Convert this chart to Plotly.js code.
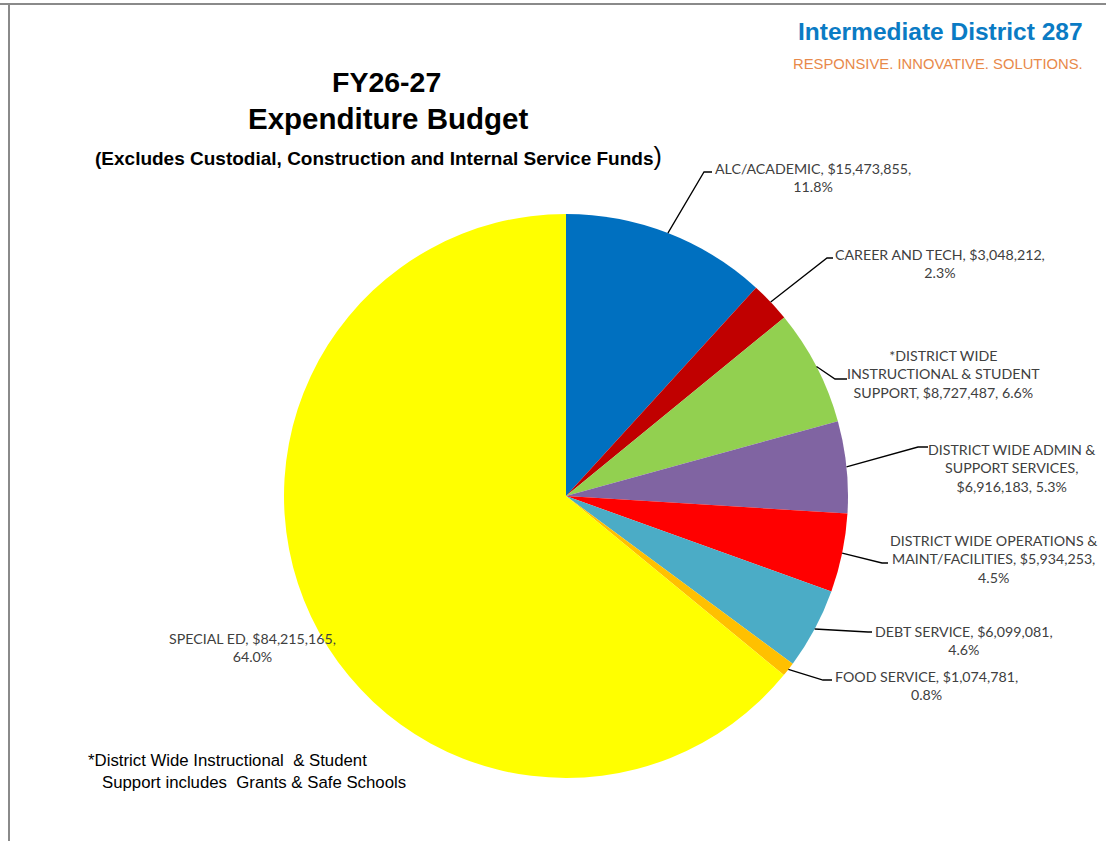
<!DOCTYPE html>
<html><head><meta charset="utf-8">
<script src="https://cdn.plot.ly/plotly-3.0.1.min.js"></script>
<style>html,body{margin:0;padding:0;background:#fff}#chart{width:1106px;height:841px}</style>
</head><body><div id="chart"></div>
<script>
// ---- data ----
const categories = ["ALC/ACADEMIC", "CAREER AND TECH", "*DISTRICT WIDE INSTRUCTIONAL & STUDENT SUPPORT",
  "DISTRICT WIDE ADMIN & SUPPORT SERVICES", "DISTRICT WIDE OPERATIONS & MAINT/FACILITIES",
  "DEBT SERVICE", "FOOD SERVICE", "SPECIAL ED"];
const values = [15473855, 3048212, 8727487, 6916183, 5934253, 6099081, 1074781, 84215165];
const colors = ["#0070C0", "#C00000", "#92D050", "#8064A2", "#FF0000", "#4BACC6", "#FFC000", "#FFFF00"];
// label wording (line breaks as in the original)
const labelNames = ["ALC/ACADEMIC", "CAREER AND TECH", "*DISTRICT WIDE<br>INSTRUCTIONAL & STUDENT<br>SUPPORT",
  "DISTRICT WIDE ADMIN &<br>SUPPORT SERVICES", "DISTRICT WIDE OPERATIONS &<br>MAINT/FACILITIES",
  "DEBT SERVICE", "FOOD SERVICE", "SPECIAL ED"];
const valueSeps = [", ", ", ", ", ", ",<br>", ", ", ", ", ", ", ", "];
const pctSeps = [",<br>", ",<br>", ", ", ", ", ",<br>", ",<br>", ",<br>", ",<br>"];

// ---- layout helpers (pixel positions of label blocks and leader elbows) ----
const W = 1106, H = 841;
const pieDomain = {x: [284 / W, 848 / W], y: [63 / H, 627 / H]};
const labelPos = [[813, 177.5], [940, 263.5], [943, 373.5], [1011, 468.5], [993, 558.5], [964, 640], [926, 685], [252, 647]];
const leaderElbow = [[704, 172], [827, 258], [835, 379], [918, 447], [882, 563], [868, 632], [823, 680], null];
const leaderEnd = [[712, 172], [833, 258], [847, 379], [928, 447], [888, 563], [872, 632], [832, 680], null];

const px = x => x / W, py = y => 1 - y / H;
const total = values.reduce((a, b) => a + b, 0);
const cx = (pieDomain.x[0] + pieDomain.x[1]) / 2 * W;
const cy = (1 - (pieDomain.y[0] + pieDomain.y[1]) / 2) * H;
const R = Math.min((pieDomain.x[1] - pieDomain.x[0]) * W, (pieDomain.y[1] - pieDomain.y[0]) * H) / 2;

const fmtMoney = v => "$" + v.toLocaleString("en-US");
const annotations = [];
const shapes = [];
let cum = 0;
values.forEach((v, i) => {
  const mid = (cum + v / 2) / total * 2 * Math.PI;
  cum += v;
  const pct = (v / total * 100).toFixed(1) + "%";
  const txt = labelNames[i] + valueSeps[i] + fmtMoney(v) + pctSeps[i] + pct;
  annotations.push({
    xref: "paper", yref: "paper", x: px(labelPos[i][0]), y: py(labelPos[i][1]),
    xanchor: "center", yanchor: "middle", align: "center", showarrow: false,
    text: txt, font: {family: "Lato, 'Open Sans', sans-serif", size: 14.2, color: "#404040"}
  });
  if (leaderElbow[i]) {
    const ex = cx + R * Math.sin(mid), ey = cy - R * Math.cos(mid);
    shapes.push({
      type: "path", xref: "paper", yref: "paper",
      path: `M ${px(ex)},${py(ey)} L ${px(leaderElbow[i][0])},${py(leaderElbow[i][1])} L ${px(leaderEnd[i][0])},${py(leaderEnd[i][1])}`,
      line: {color: "#000000", width: 1.3}
    });
  }
});

// frame lines (top & left)
shapes.push({type: "line", xref: "paper", yref: "paper", x0: 0, x1: 1, y0: py(4), y1: py(4), line: {color: "#8a8a8a", width: 2}});
shapes.push({type: "line", xref: "paper", yref: "paper", x0: px(9), x1: px(9), y0: py(4), y1: 0, line: {color: "#8a8a8a", width: 2}});

const titleFont = "Arial, 'Liberation Sans', sans-serif";
annotations.push(
  {xref: "paper", yref: "paper", x: px(386), y: py(82), xanchor: "center", yanchor: "middle", showarrow: false,
   text: "<b>FY26-27</b>", font: {family: titleFont, size: 28.5, color: "#000"}},
  {xref: "paper", yref: "paper", x: px(388), y: py(119), xanchor: "center", yanchor: "middle", showarrow: false,
   text: "<b>Expenditure Budget</b>", font: {family: titleFont, size: 29.5, color: "#000"}},
  {xref: "paper", yref: "paper", x: px(93), y: py(156), xanchor: "left", yanchor: "middle", showarrow: false,
   text: "<b>(Excludes Custodial, Construction and Internal Service Funds</b><span style='font-size:25px'>)</span>",
   font: {family: titleFont, size: 19, color: "#000"}},
  {xref: "paper", yref: "paper", x: px(1085), y: py(31), xanchor: "right", yanchor: "middle", showarrow: false,
   text: "<b>Intermediate District 287</b>", font: {family: titleFont, size: 24.5, color: "#0A7BC4"}},
  {xref: "paper", yref: "paper", x: px(1085), y: py(64), xanchor: "right", yanchor: "middle", showarrow: false,
   text: "RESPONSIVE. INNOVATIVE. SOLUTIONS.", font: {family: titleFont, size: 14.8, color: "#E8894A"}},
  {xref: "paper", yref: "paper", x: px(86), y: py(771), xanchor: "left", yanchor: "middle", showarrow: false, align: "left",
   text: "*District Wide Instructional  &amp; Student<br>   Support includes  Grants &amp; Safe Schools",
   font: {family: titleFont, size: 16.8, color: "#000"}}
);

const data = [{
  type: "pie", labels: categories, values: values, sort: false, direction: "clockwise", rotation: 0,
  marker: {colors: colors, line: {width: 0}}, textinfo: "none", hoverinfo: "label+value+percent",
  domain: pieDomain, showlegend: false
}];

const layout = {
  width: W, height: H, margin: {l: 0, r: 0, t: 0, b: 0},
  paper_bgcolor: "#ffffff", plot_bgcolor: "#ffffff",
  showlegend: false, annotations: annotations, shapes: shapes
};
Plotly.newPlot("chart", data, layout, {displayModeBar: false, staticPlot: true});
</script></body></html>
